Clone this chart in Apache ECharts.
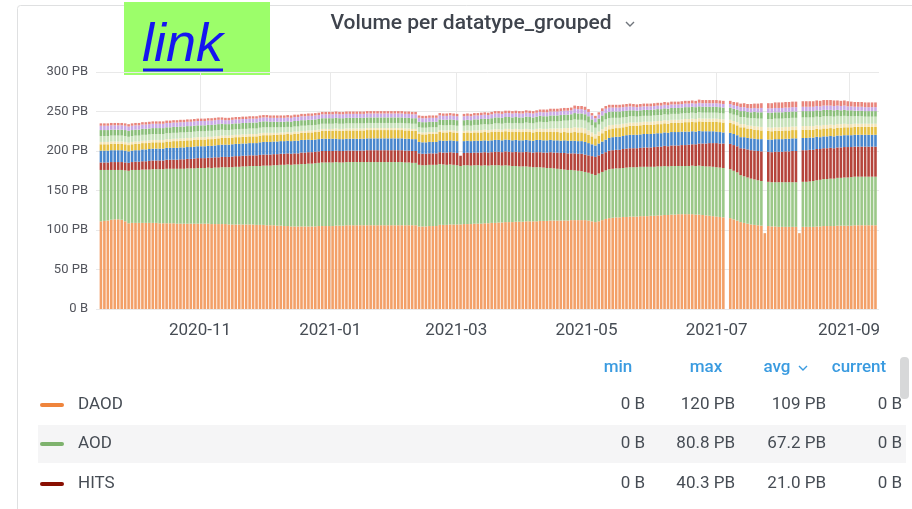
<!DOCTYPE html>
<html><head><meta charset="utf-8">
<script src="https://cdn.jsdelivr.net/npm/echarts@6/dist/echarts.min.js"></script>
<style>html,body{margin:0;padding:0;background:#fff;}#c{width:912px;height:509px;}</style>
</head><body><div id="c"></div>
<script>
// ---- data (PB), one bar every 39 hours starting 2020-09-15 ----
const firstBar = Date.UTC(2020, 8, 15, 0, 0);
const stepHours = 39;
const axisMin = Date.UTC(2020, 8, 13, 7);
const axisMax = Date.UTC(2021, 8, 15, 1);
const tickDates = ['2020-11', '2021-01', '2021-03', '2021-05', '2021-07', '2021-09'];
const yTicks = [0, 50, 100, 150, 200, 250, 300];

const DAOD = [
111,111.5,112,113,113.5,113.5,113,111,108.5,109,109,109,109,109,109,
109,109,108.5,108.5,108.5,108.5,108.5,108,108,108,108,108,108,108,108,
108,108,107.5,107.5,107.5,107.5,107.5,107,107,107,107,107,107,107,107,
106.5,106.5,106.5,106,106,106,105.5,105.5,105,105,104.5,104.5,104.5,104.5,104.5,
104.5,104.5,104.5,105,105,105,105,105,105.5,105.5,105.5,106,106,106,106,
106,106,106,106,106,106,106,106,106,106,106,106,106,106,106,
106,106,104.5,104.5,104.5,105,105,105,106.5,106.5,106.5,107,107,107,107,
107.5,107.5,107.5,108,108,108,108.5,108.5,109,109,109.5,109.5,110,110,110,
110.5,110.5,110.5,111,111,111,111,111.5,111.5,111.5,112,112,112,112,112,
112,112.5,112.5,112.5,112.5,112.5,112,111,110,111,112.5,114,115,115.5,116,
116,116.5,116.5,117,117,117,117.5,117.5,117.5,118,118,118.5,118.5,119,119,
119.5,119.5,120,120,120,120,120,119.5,119.5,119,118.5,118,117.5,117,116.5,
116,null,115,113.5,112,110,109,108,107,106.5,106,105.5,96,105,104.5,
104.5,104,104,104,104,104,104,96,104,104,104,104,104.5,104.5,105,
105,105,105,105.5,105.5,105.5,105.5,105.5,106,106,106,106,106,106,106];

const AOD = [
65,64.5,64,63,62.5,62.5,63,64.5,66.5,67,67,67,67.5,67.5,67.5,
68,68,68.5,68.5,69,69,69,69.5,69.5,69.5,70,70,70,70.5,70.5,
70.5,71,71,71.5,71.5,72,72,72.5,72.5,73,73,73.5,73.5,74,74,
74.5,74.5,75,75.5,75.5,76,76.5,77,77.5,78,78,78.5,78.5,79,79,
79.5,79.5,80,80,80.5,80.5,80.5,80.5,80.5,80,80,80,80,80,80,
80,80,80,80,80,80,80,80,80,80,80,80,80,79.5,79.5,
79,79,78,77.5,77.5,77.5,77.5,77.5,77,76.5,76,76,75.5,75,74,
74.5,74.5,74,74,74,73.5,73.5,73,73,73,72.5,72,72,71.5,71,
70.5,70,70,69.5,69,68.5,68.5,68,67.5,67,66.5,66,65.5,65,64.5,
64,63.5,63,62.5,62,61,60.5,60,59.5,60.5,61,61.5,62,62,62,
62,62,62.5,62.5,62.5,62.5,62.5,62.5,62.5,62,62,62,62,62,61.5,
61.5,61.5,61,61,61,61,61.5,61.5,62,62,62,62.5,62.5,62.5,62.5,
62.5,null,62,61.5,61,59.5,59,58.5,58,57.5,57,56.5,null,56,56,
56,56.5,56.5,56.5,56.5,56.5,56.5,null,57,57,57.5,58,58.5,59,59.5,
59.5,60,60,60.5,60.5,61,61,61.5,61.5,61.5,61.5,61.5,61.5,61.5,61.5];

const HITS = [
9.5,9.5,9.5,10,10,10,10,10,10,10,10.5,10.5,10.5,10.5,11,
11,11,11,11,11.5,11.5,11.5,11.5,12,12,12,12,12.5,12.5,12.5,
12.5,12.5,13,13,13,13,13,13,13.5,13.5,13.5,13.5,13.5,13.5,13.5,
13.5,14,14,14,14,14,14,14,14,14,14,14,14,14.5,14.5,
14.5,14.5,14.5,14.5,14.5,14.5,14.5,14.5,14.5,14.5,14.5,14.5,14.5,14.5,14.5,
14.5,14.5,15,15,15,15,15,15,15,15,15,15,15,15,15,
15,15,14.5,14.5,14.5,14.5,14.5,14.5,15,15,15.5,15.5,15.5,15.5,13,
15.5,16,16,16,16,16.5,16.5,16.5,16.5,17,17,17,17.5,17.5,17.5,
18,18,18,18.5,18.5,18.5,19,19,19,19.5,20,20,20.5,20.5,21,
21,21,21.5,21.5,22,22,22,22.5,23,23,23,23,23.5,23.5,23.5,
23.5,24,24,24,24,24,24,24.5,24.5,24.5,25,25,25,25.5,25.5,
26,26,26,26.5,26.5,27,27,27.5,28,28.5,29,29.5,30,30.5,30.5,
31,null,32,32.5,33,34,35,35.5,36,36.5,37,37.5,null,38,38,
38.5,38.5,38.5,39,39,39.5,39.5,null,40,40,40,39.5,39.5,39,39,
39,39,38.5,38.5,38.5,38.5,38.5,38,38,38,38,38,38,38,38];

const RDO = [
15,15,15,15,15,15,15,15,14.5,14.5,14.5,14.5,15,15,15,
15,15,15,15,15,15,15,15,15,15,15,15,15,15,15,
15,15,15,15,15.5,15.5,15.5,15.5,15.5,15.5,15.5,15.5,15.5,15.5,15.5,
15.5,16,16,16,16,16,16,16,16,16,16,16,16,16,16,
16,15.5,15.5,15.5,15.5,15.5,15.5,15.5,15,15,15,15,15,15,15,
15,15,15,15,15,15,15,15,15,15,15,15,15,15,15,
15,15,14.5,14.5,14.5,14.5,14.5,14.5,15,15,15,15,15,15,0,
15,15,15,15,15,15,15,15,15,15,15,15,15,15,15,
15,15,15,15,15,15,15.5,15.5,15.5,15.5,15.5,15.5,15.5,15.5,16,
16,16,16,16,16,16,15.5,15,14.5,15,15.5,16,16,16.5,16.5,
16.5,16.5,17,17,17,17,17,17,17,17,17,17,17,17,17,
17,17,17,17,17,16.5,16.5,16,16,15.5,15.5,15,15,14.5,14.5,
14,null,14,14,14,14,14.5,14.5,15,15,15,15.5,null,15.5,16,
16,16,16,16,16,16,16,null,15.5,15.5,15.5,15.5,15.5,15,15,
15,15,15,15,15,15,15,15,15,15,15,15,15,15,15];

const EVNT = [
8,8,8,8,8,8,8,8,8,8,8,8,8,8,8,
8,8,8,8,8,8,8.5,8.5,8.5,8.5,8.5,8.5,8.5,8.5,8.5,
8.5,8.5,8.5,8.5,8.5,8.5,8.5,8.5,8.5,8.5,8.5,8.5,8.5,8.5,8.5,
8.5,8.5,8.5,8.5,8.5,8.5,8.5,8.5,8.5,8.5,8.5,9,9,9,9,
9,9.5,9.5,9.5,10,10,10,10,10.5,10.5,10.5,10.5,10.5,10.5,10.5,
10.5,10.5,10.5,10.5,10.5,10.5,10.5,10.5,10.5,10.5,10.5,10.5,10.5,10.5,10.5,
10.5,10.5,10,10,10,10,10,10,10.5,10.5,10.5,10.5,10.5,10.5,0,
10.5,10.5,10.5,10.5,10.5,10.5,10.5,10.5,10.5,10.5,10.5,10.5,10.5,10.5,10.5,
10.5,10.5,10.5,10.5,10.5,10.5,10.5,10.5,10.5,10.5,10.5,10.5,10.5,10.5,10.5,
10.5,10.5,11,11,11,11,10.5,10,9,10,10.5,11,11,11,11,
11,11,11,11.5,11.5,11.5,11.5,11.5,11.5,11.5,11.5,11.5,11.5,11.5,11.5,
11.5,11.5,11.5,11.5,12,12,12,12,12,12,12,12,12,12.5,12.5,
12.5,null,12.5,12.5,12.5,12.5,12.5,12,12,11.5,11.5,11,null,11,10.5,
10.5,10.5,10.5,10.5,10.5,10.5,10.5,null,10.5,10.5,10,10,10,10,10,
10,10,10,10,10,10,10,10,10,10,10,10,10,10,10];

const NTUP = [
3,3,3,3,3,3,3,3,3,3,3,3,3,3,3,
3,3,3,3,3,3,3,3,3,3,3,3,3,3,3,
3,3,3,3,3,3,3,3,3,3,3,3,3,3,3,
3,3,3,3,3,2.5,2.5,2.5,2.5,2.5,2.5,2.5,2.5,2.5,2.5,
2.5,2.5,2.5,2.5,2.5,2.5,2.5,2.5,2.5,2.5,2.5,2.5,2.5,2.5,2.5,
2.5,2.5,2.5,2.5,2.5,2.5,2.5,2.5,2.5,2.5,2.5,2.5,2.5,2.5,2.5,
2.5,2.5,2.5,2.5,2.5,2.5,2.5,2.5,2.5,2.5,2.5,2.5,2.5,2.5,0,
2.5,2.5,2.5,2.5,2.5,3,3,3,3,3,3,3,3,3.5,3.5,
3.5,3.5,3.5,3.5,3.5,3.5,3.5,4,4,4,4,4.5,4.5,5,5,
5.5,5.5,6,6,6,6,5.5,5,5,5,5,5,5,4.5,4.5,
4.5,4.5,4,4,4,4,4,4,4,4,4,4,4,4,4,
4,4,4,4,4,4,4,4,4,4,4,4,4,4,4,
4,null,4,4,4,4,4,4,4,4.5,4.5,4.5,null,4.5,4.5,
4.5,4.5,4.5,4.5,4.5,4.5,4.5,null,4.5,4.5,4.5,4.5,4.5,4.5,4.5,
4.5,4.5,4.5,4.5,4.5,4.5,4,4,4,4,4,4,4,4,4];

const ESD = [
7.5,7.5,7.5,7.5,7.5,7.5,7.5,7.5,7.5,7.5,7.5,7.5,7.5,7.5,7.5,
7.5,7.5,7.5,7.5,7.5,7.5,7.5,7.5,7.5,7.5,7.5,7.5,7.5,7.5,7.5,
7.5,7.5,7.5,7.5,7.5,7.5,7,7,7,7,7,7,7,7,7,
7,7,7,7,7,7,7,6.5,6.5,6.5,6.5,6.5,6.5,6.5,6.5,
6.5,6.5,6.5,6.5,6.5,6.5,6.5,6.5,6.5,6.5,6.5,6.5,6.5,6.5,6.5,
6.5,6.5,6.5,6.5,6.5,6.5,6.5,6.5,6.5,6.5,6.5,6.5,6.5,6.5,6.5,
6.5,6.5,6,6,6,6,6,6,6.5,6.5,6.5,6.5,6.5,6.5,0,
6.5,6.5,6.5,7,7,7,7,7,7,7.5,7.5,7.5,7.5,7.5,7.5,
7.5,7.5,7.5,8,8,8,8,8.5,8.5,8.5,9,9,9,9.5,9.5,
9.5,10,10,10,10,10,10,9,8.5,9,9.5,9.5,9,9,8.5,
8.5,8,8,8,8,7.5,7.5,7.5,7.5,7.5,7.5,7.5,7.5,7.5,7.5,
7.5,7.5,7.5,7.5,7.5,7.5,7.5,7.5,7.5,7.5,7.5,7.5,7.5,7.5,7.5,
7.5,null,8,8,8.5,9,9,9.5,9.5,10,10,10.5,null,10.5,11,
11,11,11,11,11,11,11,null,11,11,11,11,11,11,11,
11,10.5,10.5,10.5,10,10,10,10,9.5,9.5,9.5,9,9,9,9];

const LOG = [
7.5,7.5,7.5,7.5,7.5,7.5,7.5,7.5,7.5,7.5,7.5,7.5,7.5,7.5,7.5,
7.5,7.5,7.5,7.5,7.5,7.5,7.5,7.5,7.5,7.5,7.5,7.5,7.5,7.5,7.5,
7.5,7.5,7.5,7.5,7.5,7.5,7.5,7.5,7.5,7.5,7.5,7.5,7.5,7.5,7.5,
7.5,7.5,7.5,7.5,7,7,7,7,7,7,7,7,7,7,7,
7,7,7,7,7,7,7,7,7,7,7,7,7,7,7,
7,7,7,7,7,7,7,7,7,7,7,7,7,7,7,
7,7,7,7,7,7,7,7,7,7,7,7,7,7,0,
7,7,7,7,7,7,7,7,7.5,7.5,7.5,7.5,7.5,7.5,7.5,
7.5,7.5,7.5,7.5,7.5,7.5,7.5,7.5,7.5,7.5,7.5,7.5,7.5,7.5,7.5,
7.5,7.5,8,8,8,8,8,7.5,7,7.5,8,8,8,8,8,
8,8,8,7.5,7.5,7.5,7.5,7.5,7.5,7.5,7.5,7.5,7.5,7.5,7.5,
7.5,7.5,7.5,7.5,7.5,7.5,7.5,7.5,7.5,7.5,7.5,7.5,7.5,7.5,7.5,
7.5,null,7.5,7.5,7.5,7.5,7.5,7.5,7.5,8,8,8,null,8,8,
8,8,8,8,8,8,8,null,8,8,8,8,8,8,8,
8,8,8,7.5,7.5,7.5,7.5,7.5,7,7,7,7,7,7,7];

const TAG = [
5.5,5.5,5.5,5.5,5.5,5.5,5.5,5.5,5.5,5.5,5.5,5.5,5.5,5.5,5.5,
5.5,5.5,5.5,5.5,5.5,5.5,5.5,5.5,5.5,5.5,5.5,5.5,5.5,5.5,5.5,
5.5,5.5,5.5,5.5,5.5,5,5,5,5,5,5,5,5,5,5,
5,5,5,5,5,5,5,5,5,5,5,5,5,5,5,
5,5,5,5,5,5,5,5,5,5,5,5,5,5,5,
5,5,5,5,5,5,5,5,5,5,5,5,5,5,5,
5,5,5,5,5,5,5,5,5,5,5,5,5,5,0,
5,5,5,5,5,5,5,5,5,5,5,5,5,5,5,
5,5,5,5,5,5,5,5,5,5,5,5,5,5,5,
5,5,5.5,5.5,5.5,5.5,5.5,5,5,5,5.5,5.5,5.5,5,5,
5,5,5,5,4.5,4.5,4.5,4.5,4.5,4.5,4.5,4.5,4.5,4.5,4.5,
4.5,4.5,4.5,4.5,4.5,4.5,4.5,4.5,4.5,4.5,4.5,4.5,4.5,4.5,4.5,
4.5,null,4.5,4.5,4.5,5,5,5,5,5,5,5.5,null,5.5,5.5,
5.5,5.5,5.5,5.5,5.5,5.5,5.5,null,5.5,5.5,5.5,5.5,5.5,5.5,5.5,
5.5,5.5,5.5,5.5,5.5,5.5,5,5,5,5,5,5,5,5,5];

const other = [
3,3,3,3,3,3,3,3,3,3,3,3,3,3,3,
3,3,3,3,3,3,3,3,3,3,3,3,3,3,3,
3,3,3,3,3,3,3,3,3,3,3,3,3,3,3,
3,3,3,3,3,3,3,3,3,3,3,3,3,3,3,
3,3,3,3,3,3,3,3,3,3,3,3,3,3,3,
3,3,3,3,3,3,3,3,3,3,3,3,3,3,3,
3,3,3,3,3,3,3,3,3,3,3,3,3,3,0,
3,3,3,3,3,3,3,3,3,3,3,3,3,3,3,
3,3,3,3,3,3,3,3,3.5,3.5,3.5,3.5,3.5,3.5,3.5,
3.5,3.5,4,4,4,4,3.5,3,3,3,3.5,3.5,3.5,3.5,3.5,
3.5,3.5,3.5,3.5,3.5,3.5,3.5,3.5,3.5,3.5,3.5,3.5,3.5,3.5,3.5,
3.5,3.5,3.5,3.5,3.5,3.5,3.5,3.5,4,4,4,4,4,4,4,
4,null,4,4,4.5,4.5,5,5,5.5,5.5,6,6,null,6.5,6.5,
7,7,7,7,7,7,7,null,7,7,7,7,7,7,7,
7,7,7,6.5,6.5,6.5,6.5,6,6,6,6,6,6,6,6];

const seriesNames = ['DAOD', 'AOD', 'HITS', 'RDO', 'EVNT', 'NTUP', 'ESD', 'LOG', 'TAG', 'other'];
const seriesData = [DAOD, AOD, HITS, RDO, EVNT, NTUP, ESD, LOG, TAG, other];
const barColors = ['#F3A068', '#9BC888', '#B5443B', '#4886CD', '#E5BF40', '#F3E4B6', '#C7E2BA', '#8BBF7A', '#C9A9E6', '#E9857B'];

// legend table
const legendNames = ['DAOD', 'AOD', 'HITS'];
const legendColors = ['#EF843C', '#7EB26D', '#890F02'];
const legendMin = ['0 B', '0 B', '0 B'];
const legendMax = ['120 PB', '80.8 PB', '40.3 PB'];
const legendAvg = ['109 PB', '67.2 PB', '21.0 PB'];
const legendCurrent = ['0 B', '0 B', '0 B'];

// ---- build ----
const H = 3600 * 1000;
const times = DAOD.map((_, i) => firstBar + i * stepHours * H);
const tickTimes = tickDates.map(s => { const p = s.split('-'); return Date.UTC(+p[0], +p[1] - 1, 1); });

const series = seriesNames.map((n, k) => ({
  name: n, type: 'bar', stack: 'total', barWidth: 2.6, xAxisIndex: 0,
  data: seriesData[k].map((v, i) => [times[i], v]),
  itemStyle: { color: barColors[k] },
  emphasis: { disabled: true }, silent: true
}));

const FONT = 'Roboto';
const textColor = '#464c54';
const headColor = '#3a9be0';
const graphics = [
  { type: 'rect', z: -5, shape: { x: 17.5, y: 5.5, width: 920, height: 520, r: 3 }, style: { fill: null, stroke: '#dfe0e1', lineWidth: 1 } },
  { type: 'rect', shape: { x: 124, y: 2, width: 146, height: 73 }, style: { fill: '#9CFE6A' } },
  { type: 'text', x: 142, y: 46, style: { text: 'link', font: 'italic 54px "Liberation Sans", Arial', fill: '#1515F0', verticalAlign: 'middle', align: 'left' } },
  { type: 'rect', shape: { x: 143, y: 68.5, width: 80, height: 3 }, style: { fill: '#1515F0' } },
  { type: 'text', x: 471, y: 24, style: { text: 'Volume per datatype_grouped', font: '500 21px ' + FONT, fill: '#3f444d', align: 'center', verticalAlign: 'middle' } },
  { type: 'polyline', shape: { points: [[626, 22], [630, 26], [634, 22]] }, style: { stroke: '#70757c', lineWidth: 1.4, fill: null } },
  { type: 'rect', shape: { x: 38, y: 425, width: 868, height: 38 }, style: { fill: '#f5f5f6' } },
  { type: 'rect', shape: { x: 900, y: 357, width: 9, height: 42, r: 4 }, style: { fill: '#d7d8d9' } },
  { type: 'polyline', shape: { points: [[799, 366], [803, 370], [807, 366]] }, style: { stroke: headColor, lineWidth: 1.4, fill: null } }
];
const heads = [['min', 618], ['max', 706], ['avg', 777], ['current', 859]];
heads.forEach(h => graphics.push({ type: 'text', x: h[1], y: 368, style: { text: h[0], font: '500 17px ' + FONT, fill: headColor, align: 'center', verticalAlign: 'middle' } }));
const rowY = [405, 444, 484];
const colX = [645, 735, 826, 902];
legendNames.forEach((n, r) => {
  const y = rowY[r];
  graphics.push({ type: 'rect', shape: { x: 40, y: y - 2, width: 24, height: 4, r: 2 }, style: { fill: legendColors[r] } });
  graphics.push({ type: 'text', x: 78, y: y, style: { text: n, font: '17px ' + FONT, fill: textColor, align: 'left', verticalAlign: 'middle' } });
  [legendMin[r], legendMax[r], legendAvg[r], legendCurrent[r]].forEach((t, c) => {
    graphics.push({ type: 'text', x: colX[c], y: y, style: { text: t, font: '17px ' + FONT, fill: textColor, align: 'right', verticalAlign: 'middle' } });
  });
});

const chart = echarts.init(document.getElementById('c'), null, { renderer: 'canvas' });
chart.setOption({
  animation: false,
  backgroundColor: '#ffffff',
  grid: { left: 96, right: 33, top: 72, bottom: 200, containLabel: false },
  xAxis: [{
    type: 'time', min: axisMin, max: axisMax,
    axisLine: { show: false }, axisTick: { show: false }, axisLabel: { show: false }, splitLine: { show: false }
  }, {
    type: 'value', min: axisMin, max: axisMax, position: 'bottom',
    axisLine: { show: false },
    axisTick: { show: false, customValues: tickTimes },
    axisLabel: {
      customValues: tickTimes, color: textColor, fontSize: 17, fontFamily: FONT, margin: 13,
      formatter: v => { const d = new Date(v); return d.getUTCFullYear() + '-' + String(d.getUTCMonth() + 1).padStart(2, '0'); }
    },
    splitLine: { show: true, lineStyle: { color: '#e9e9e9', width: 1 } }
  }],
  yAxis: {
    type: 'value', min: yTicks[0], max: yTicks[yTicks.length - 1], interval: 50,
    axisLine: { show: false }, axisTick: { show: false },
    axisLabel: { color: '#52545c', fontSize: 13, fontFamily: FONT, margin: 8, formatter: v => v === 0 ? '0 B' : v + ' PB' },
    splitLine: { lineStyle: { color: '#e9e9e9', width: 1 } }
  },
  series: series,
  graphic: graphics
});
</script></body></html>
